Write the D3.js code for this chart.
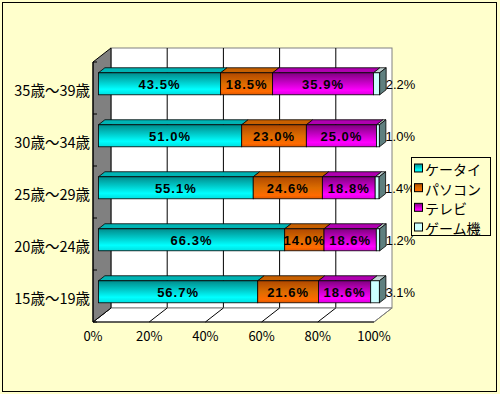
<!DOCTYPE html>
<html><head><meta charset="utf-8">
<script src="https://cdn.jsdelivr.net/npm/d3@7"></script>
<style>body{margin:0;background:#fff}svg{display:block}</style>
</head><body>
<svg id="c" width="500" height="394"></svg>
<script>
const categories = ["35歳～39歳","30歳～34歳","25歳～29歳","20歳～24歳","15歳～19歳"];
const seriesNames = ["ケータイ","パソコン","テレビ","ゲーム機"];
const keitai  = [43.5, 51.0, 55.1, 66.3, 56.7];
const pasokon = [18.5, 23.0, 24.6, 14.0, 21.6];
const terebi  = [35.9, 25.0, 18.8, 18.6, 18.6];
const game    = [2.2, 1.0, 1.4, 1.2, 3.1];
const tickValues = [0, 20, 40, 60, 80, 100];

const seriesValues = [keitai, pasokon, terebi, game];
const svg = d3.select("#c");
const W = 500, H = 394;

svg.append("rect").attr("x",0).attr("y",0).attr("width",W).attr("height",H).attr("fill","#FFFFCC");
svg.append("rect").attr("x",2.5).attr("y",2.5).attr("width",494).attr("height",389)
  .attr("fill","none").attr("stroke","#000").attr("stroke-width",1);

const x = d3.scaleLinear().domain([0,100]).range([93,374]);
const y = d3.scaleBand().domain(categories).range([62,322]);
const D = [18,-14];
const F = [D[0]*0.3, D[1]*0.3];
const B = [D[0]*0.36, D[1]*0.36];
const barH = 22;

const defs = svg.append("defs");
function vgrad(id, stops){
  const g = defs.append("linearGradient").attr("id",id).attr("x1",0).attr("y1",0).attr("x2",0).attr("y2",1);
  stops.forEach(s=>g.append("stop").attr("offset",s[0]).attr("stop-color",s[1]));
}
vgrad("g0",[[0,"#008c8c"],[0.4,"#00c8c8"],[0.75,"#00ffff"],[1,"#00dede"]]);
vgrad("g1",[[0,"#b04800"],[0.5,"#dc6c00"],[0.85,"#ff6a00"],[1,"#e05800"]]);
vgrad("g2",[[0,"#800080"],[0.4,"#c000c0"],[0.8,"#ff00ff"],[1,"#e000e0"]]);
vgrad("g3",[[0,"#ccffff"],[1,"#ccffff"]]);
const topCol = ["#00b4b4","#c86000","#b000b0","#c4d4d4"];
const legCol = ["url(#g0)","url(#g1)","url(#g2)","#ccffff"];

const x0 = x(0), x1 = x(100), yT = y.range()[0], yB = y.range()[1];
const poly = pts => pts.map(p=>p.join(",")).join(" ");

svg.append("rect").attr("x",x0+D[0]).attr("y",yT+D[1]).attr("width",x1-x0).attr("height",yB-yT)
  .attr("fill","#fff").attr("stroke","#808080").attr("stroke-width",1);
svg.append("g").selectAll("line").data(tickValues.slice(1,-1)).join("line")
  .attr("x1",d=>x(d)+D[0]).attr("x2",d=>x(d)+D[0]).attr("y1",yT+D[1]).attr("y2",yB+D[1])
  .attr("stroke","#000").attr("stroke-width",1);
svg.append("polygon").attr("points",poly([[x0,yB],[x0+D[0],yB+D[1]],[x1+D[0],yB+D[1]],[x1,yB]]))
  .attr("fill","#fff").attr("stroke","#808080").attr("stroke-width",1);
svg.append("g").selectAll("line").data(tickValues).join("line")
  .attr("x1",d=>x(d)).attr("y1",yB).attr("x2",d=>x(d)+D[0]).attr("y2",yB+D[1])
  .attr("stroke",d=>d===100?"#808080":"#000").attr("stroke-width",1);
svg.append("polygon").attr("points",poly([[x0,yT],[x0+D[0],yT+D[1]],[x0+D[0],yB+D[1]],[x0,yB]]))
  .attr("fill","#808080").attr("stroke","#000").attr("stroke-width",1);
svg.append("line").attr("x1",x0).attr("x2",x1).attr("y1",yB).attr("y2",yB).attr("stroke","#000");
svg.append("line").attr("x1",x0).attr("x2",x0).attr("y1",yT).attr("y2",yB).attr("stroke","#000");
const bounds = categories.map(c=>y(c)).concat([yB]);
svg.append("g").selectAll("line").data(bounds).join("line")
  .attr("x1",x0).attr("x2",x0+4).attr("y1",d=>d).attr("y2",d=>d).attr("stroke","#000");

svg.append("g").selectAll("text").data(tickValues).join("text")
  .attr("x",d=>x(d)).attr("y",335).attr("text-anchor","middle").attr("dominant-baseline","central")
  .attr("font-family","'Noto Sans CJK JP', sans-serif").attr("font-size",13).attr("fill","#000")
  .text(d=>d+"%");
svg.append("g").selectAll("text").data(categories).join("text")
  .attr("x",90).attr("y",d=>y(d)+y.bandwidth()/2+1).attr("text-anchor","end").attr("dominant-baseline","central")
  .attr("font-family","'Noto Sans CJK JP', sans-serif").attr("font-size",14.5).attr("fill","#000")
  .text(d=>d);

const bars = svg.append("g");
const labels = svg.append("g");
categories.forEach((cat,i)=>{
  const cy = y(cat)+y.bandwidth()/2 + F[1];
  const top = cy - barH/2, bot = cy + barH/2;
  let cum = 0;
  seriesValues.forEach((arr,s)=>{
    const v = arr[i];
    const xa = x(cum)+F[0], xb = x(cum+v)+F[0];
    bars.append("polygon").attr("points",poly([[xa,top],[xa+B[0],top+B[1]],[xb+B[0],top+B[1]],[xb,top]]))
      .attr("fill",topCol[s]).attr("stroke","#000").attr("stroke-width",0.8);
    bars.append("rect").attr("x",xa).attr("y",top).attr("width",xb-xa).attr("height",barH)
      .attr("fill","url(#g"+s+")").attr("stroke","#000").attr("stroke-width",0.8);
    if (s === seriesValues.length-1){
      bars.append("polygon").attr("points",poly([[xb,top],[xb+B[0],top+B[1]],[xb+B[0],bot+B[1]],[xb,bot]]))
        .attr("fill","#5f7f7f").attr("stroke","#000").attr("stroke-width",0.8);
      labels.append("text").attr("x",xb+6).attr("y",cy+1).attr("dominant-baseline","central")
        .attr("font-family","'Liberation Sans', Arial, sans-serif").attr("font-size",13).attr("fill","#000")
        .text(v.toFixed(1)+"%");
    } else {
      labels.append("text").attr("x",(xa+xb)/2).attr("y",cy+1).attr("text-anchor","middle").attr("dominant-baseline","central")
        .attr("font-family","'Liberation Sans', Arial, sans-serif").attr("font-weight","bold").attr("font-size",13)
        .attr("letter-spacing",1).attr("fill","#000")
        .text(v.toFixed(1)+"%");
    }
    cum += v;
  });
});

const lg = svg.append("g");
lg.append("rect").attr("x",411.5).attr("y",157.5).attr("width",79).attr("height",78)
  .attr("fill","#FFFFCC").attr("stroke","#000").attr("stroke-width",1);
const ly = d3.scalePoint().domain(seriesNames).range([168,227]);
lg.selectAll("rect.m").data(seriesNames).join("rect").attr("class","m")
  .attr("x",414.5).attr("y",d=>ly(d)-4).attr("width",8).attr("height",8)
  .attr("fill",(d,i)=>legCol[i]).attr("stroke","#000").attr("stroke-width",1);
lg.selectAll("text").data(seriesNames).join("text")
  .attr("x",425).attr("y",d=>ly(d)+1).attr("dominant-baseline","central")
  .attr("font-family","'Noto Sans CJK JP', sans-serif").attr("font-size",14).attr("fill","#000")
  .text(d=>d);
</script>
</body></html>
